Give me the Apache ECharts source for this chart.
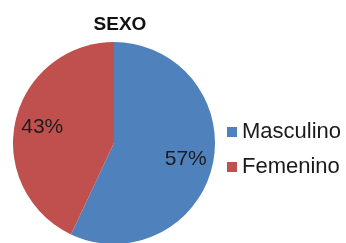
<!DOCTYPE html>
<html>
<head>
<meta charset="utf-8">
<script src="https://cdn.jsdelivr.net/npm/echarts@6/dist/echarts.min.js"></script>
<style>
html, body { margin: 0; padding: 0; background: #fff; }
#chart { width: 346px; height: 243px; }
</style>
</head>
<body>
<div id="chart"></div>
<script>
const categories = ['Masculino', 'Femenino'];
const values = [57, 43];
const colors = ['#4F81BD', '#C0504D'];

const pieData = categories.map((name, i) => ({
    name: name,
    value: values[i],
    itemStyle: { color: colors[i] }
}));

var myChart = echarts.init(document.getElementById('chart'));

myChart.setOption({
    animation: false,
    title: {
        text: 'SEXO',
        left: 120,
        top: 15,
        padding: 0,
        textAlign: 'center',
        textStyle: {
            fontFamily: 'Liberation Sans',
            fontSize: 19,
            fontWeight: 'bold',
            color: '#111'
        }
    },
    legend: {
        orient: 'vertical',
        left: 227,
        top: 121,
        padding: 0,
        icon: 'rect',
        itemWidth: 10,
        itemHeight: 10,
        itemGap: 13,
        data: categories,
        textStyle: {
            fontFamily: 'Liberation Sans',
            fontSize: 22,
            lineHeight: 22,
            color: '#1a1a1a'
        }
    },
    series: [
        {
            // the pie itself
            type: 'pie',
            center: [114, 143],
            radius: [0, 101],
            startAngle: 90,
            clockwise: true,
            silent: true,
            label: { show: false },
            labelLine: { show: false },
            itemStyle: { borderWidth: 0 },
            data: pieData
        },
        {
            // transparent ring, only used to push the % labels outward
            type: 'pie',
            center: [114, 143],
            radius: [40, 101],
            startAngle: 90,
            clockwise: true,
            silent: true,
            legendHoverLink: false,
            itemStyle: { color: 'transparent', borderWidth: 0 },
            label: {
                show: true,
                position: 'inside',
                formatter: '{c}%',
                fontFamily: 'Liberation Sans',
                fontSize: 21,
                color: '#1c1c1c'
            },
            labelLine: { show: false },
            data: categories.map((name, i) => ({ name: name + ' ', value: values[i] }))
        }
    ]
});
</script>
</body>
</html>
